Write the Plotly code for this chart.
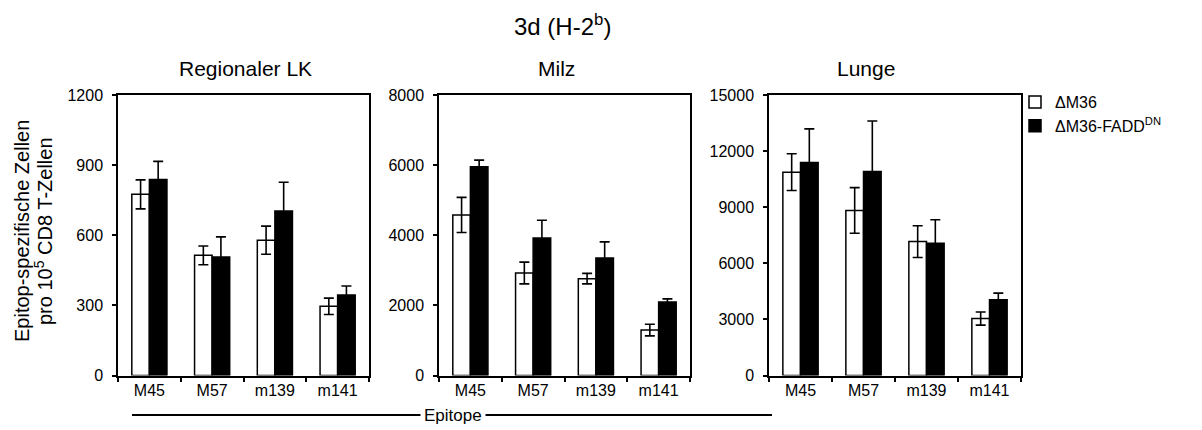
import plotly.graph_objects as go

categories = ["M45", "M57", "m139", "m141"]
series_names = ["ΔM36", "ΔM36-FADD<sup>DN</sup>"]

panel_titles = ["Regionaler LK", "Milz", "Lunge"]

lk_wt = [775, 514, 579, 296]
lk_wt_err = [62, 40, 60, 35]
lk_dn = [839, 507, 704, 344]
lk_dn_err = [77, 86, 123, 39]

milz_wt = [4580, 2924, 2762, 1295]
milz_wt_err = [500, 310, 150, 165]
milz_dn = [5952, 3924, 3352, 2095]
milz_dn_err = [190, 505, 460, 90]

lunge_wt = [10875, 8827, 7161, 3046]
lunge_wt_err = [980, 1220, 850, 350]
lunge_dn = [11390, 10910, 7075, 4046]
lunge_dn_err = [1800, 2700, 1250, 360]

y_max = [1200, 8000, 15000]
y_dtick = [300, 2000, 3000]

FONT = "Liberation Sans, Arial, sans-serif"
W, H = 1202, 430
OFF = 8  # page body margin

panels = [
    (lk_wt, lk_wt_err, lk_dn, lk_dn_err),
    (milz_wt, milz_wt_err, milz_dn, milz_dn_err),
    (lunge_wt, lunge_wt_err, lunge_dn, lunge_dn_err),
]

def px(x):
    return (x - OFF) / W

def py(y):
    return 1 - (y - OFF) / H

x_domains = [(px(118), px(369)), (px(439), px(690)), (px(769), px(1021))]
y_domain = (py(375.5), py(95))

fig = go.Figure()
layout = {}
for i, (wt, wte, dn, dne) in enumerate(panels):
    sfx = "" if i == 0 else str(i + 1)
    xa, ya = "x" + sfx, "y" + sfx
    fig.add_trace(go.Bar(
        x=categories, y=wt, name=series_names[0], xaxis=xa, yaxis=ya,
        marker=dict(color="white", line=dict(color="black", width=1.5)),
        error_y=dict(type="data", array=wte, color="black", thickness=1.6, width=5),
        showlegend=(i == 0), legendgroup="wt",
    ))
    fig.add_trace(go.Bar(
        x=categories, y=dn, name=series_names[1], xaxis=xa, yaxis=ya,
        marker=dict(color="black", line=dict(color="black", width=1.5)),
        error_y=dict(type="data", array=dne, color="black", thickness=1.6, width=5),
        showlegend=(i == 0), legendgroup="dn",
    ))
    layout["xaxis" + sfx] = dict(
        domain=list(x_domains[i]), anchor=ya, showline=True, linecolor="black",
        linewidth=1.5, mirror=True, ticks="outside", tickson="boundaries",
        ticklen=5, tickcolor="black", tickwidth=1.5, showgrid=False,
        tickfont=dict(family=FONT, size=16, color="black"), fixedrange=True,
    )
    layout["yaxis" + sfx] = dict(
        domain=list(y_domain), anchor=xa, range=[0, y_max[i]], dtick=y_dtick[i],
        tickformat="d",
        showline=True, linecolor="black", linewidth=1.5, mirror=True,
        ticks="outside", ticklen=4, tickcolor="black", tickwidth=1.5,
        ticklabelstandoff=6,
        showgrid=False, zeroline=False,
        tickfont=dict(family=FONT, size=16, color="black"),
    )

def ann(text, x, y, size, **kw):
    d = dict(text=text, x=px(x), y=py(y), xref="paper", yref="paper",
             xanchor="center", yanchor="middle", showarrow=False,
             font=dict(family=FONT, size=size, color="black"))
    d.update(kw)
    return d

annotations = [
    ann("3d (H-2<sup>b</sup>)", 562, 25, 24),
    ann(panel_titles[0], 245, 69, 21),
    ann(panel_titles[1], 556, 69, 21),
    ann(panel_titles[2], 866, 69, 21),
    ann("Epitop-spezifische Zellen", 22, 231, 20, textangle=-90),
    ann("pro 10<sup>5</sup> CD8 T-Zellen", 43, 231, 20, textangle=-90),
    ann("Epitope", 453, 415, 17, bgcolor="white", borderpad=3),
]

shapes = [
    dict(type="line", xref="paper", yref="paper", x0=px(132), x1=px(772),
         y0=py(415), y1=py(415), line=dict(color="black", width=2), layer="below"),
]

fig.update_layout(
    **layout,
    width=W, height=H,
    margin=dict(l=0, r=0, t=0, b=0, autoexpand=False),
    paper_bgcolor="white", plot_bgcolor="white",
    barmode="group", bargap=0.44, bargroupgap=0,
    annotations=annotations, shapes=shapes,
    legend=dict(x=px(1015), y=py(85), xanchor="left", yanchor="top",
                font=dict(family=FONT, size=16, color="black"),
                itemwidth=30, tracegroupgap=0, bgcolor="rgba(0,0,0,0)"),
    font=dict(family=FONT, color="black"),
)

fig.write_html("out.html")
